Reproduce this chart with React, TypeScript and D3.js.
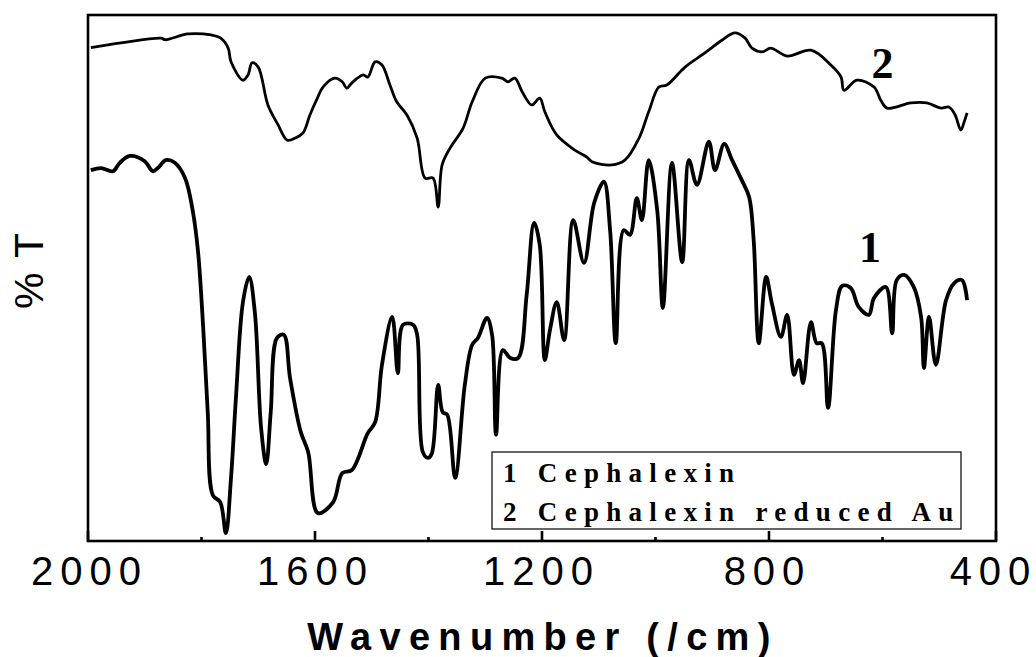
import React from "react";
import * as d3 from "d3";

// FTIR spectra: wavenumber (cm^-1) and relative transmittance (%T, arbitrary offset)
const cephalexinWavenumber = [
  1995, 1977, 1956, 1944, 1926, 1900, 1886, 1877, 1863, 1847, 1829, 1815, 1806, 1797, 1789, 1780,
  1767, 1757, 1748, 1739, 1727, 1716, 1706, 1695, 1686, 1678, 1667, 1655, 1644, 1625, 1612, 1595,
  1568, 1552, 1535, 1507, 1494, 1482, 1464, 1454, 1445, 1427, 1420, 1410, 1401, 1394, 1383, 1375,
  1367, 1353, 1336, 1323, 1313, 1297, 1288, 1281, 1269, 1256, 1242, 1227, 1214, 1204, 1195, 1186,
  1174, 1161, 1145, 1126, 1108, 1091, 1080, 1070, 1056, 1045, 1033, 1024, 1012, 997, 987, 971,
  953, 941, 927, 906, 895, 879, 865, 848, 835, 827, 818, 805, 795, 779, 768, 756,
  747, 740, 726, 716, 707, 696, 682, 671, 656, 642, 624, 615, 594, 583, 575, 562,
  545, 532, 527, 518, 506, 488, 474, 460, 451,
];
const cephalexinT = [
  70.5, 70.9, 70.3, 71.9, 73.2, 72.2, 70.3, 70.9, 72.4, 71.9, 69.0, 62.5, 54.9, 40.5, 24.5, 8.7,
  7.4, 1.5, 12.0, 27.8, 45.4, 50.2, 43.5, 21.5, 14.6, 24.5, 38.6, 39.2, 31.0, 20.7, 16.9, 5.3,
  7.4, 12.9, 13.5, 20.5, 22.6, 33.5, 42.6, 31.9, 41.1, 41.1, 39.2, 16.9, 15.8, 16.7, 29.7, 24.5,
  24.0, 12.0, 29.7, 37.3, 38.6, 42.4, 39.2, 20.2, 36.3, 34.8, 34.8, 46.8, 60.5, 56.3, 34.4, 40.1,
  45.4, 38.2, 61.0, 52.9, 64.3, 68.3, 59.1, 37.6, 59.1, 58.2, 65.2, 61.0, 72.4, 62.9, 44.3, 71.9,
  53.0, 72.4, 67.7, 75.9, 70.5, 75.5, 72.4, 68.6, 65.4, 57.2, 37.6, 50.2, 45.2, 38.8, 43.0, 31.6,
  34.4, 30.0, 41.6, 37.6, 37.6, 25.3, 43.9, 48.5, 48.1, 44.5, 43.0, 46.2, 48.3, 39.5, 49.6, 50.6,
  48.3, 42.6, 32.9, 42.6, 33.5, 45.8, 49.0, 49.6, 45.8,
];

const reducedAuWavenumber = [
  1995, 1942, 1871, 1864, 1824, 1783, 1766, 1753, 1748, 1727, 1718, 1711, 1700, 1683, 1665, 1649,
  1635, 1621, 1609, 1595, 1586, 1565, 1552, 1544, 1535, 1515, 1507, 1494, 1482, 1468, 1456, 1438,
  1420, 1406, 1392, 1383, 1376, 1362, 1339, 1323, 1300, 1271, 1260, 1248, 1234, 1218, 1204, 1195,
  1174, 1142, 1121, 1112, 1077, 1054, 1029, 1012, 994, 980, 948, 913, 883, 860, 842, 830,
  812, 797, 768, 726, 691, 673, 668, 645, 615, 603, 592, 550, 522, 497, 483, 472,
  462, 456, 451,
];
const reducedAuT = [
  93.8, 94.7, 95.6, 95.3, 96.4, 96.2, 95.6, 93.7, 91.1, 87.6, 88.6, 90.9, 90.1, 82.9, 79.1, 76.2,
  76.6, 77.6, 81.0, 84.4, 86.3, 88.0, 87.3, 86.1, 87.1, 88.6, 88.2, 91.1, 90.5, 86.7, 83.5, 81.0,
  76.6, 69.0, 69.0, 63.5, 71.5, 74.7, 78.5, 83.5, 88.0, 88.0, 87.3, 88.0, 85.2, 82.9, 84.2, 81.6,
  77.2, 74.3, 73.0, 72.1, 71.5, 72.4, 76.6, 81.6, 86.3, 86.7, 90.1, 92.8, 95.2, 96.6, 95.6, 93.7,
  93.0, 93.7, 92.2, 93.3, 90.5, 88.2, 85.7, 87.6, 86.3, 83.8, 82.3, 83.3, 83.3, 82.3, 82.5, 81.0,
  78.1, 79.7, 81.4, 80.4,
];

const majorTicks = [2000, 1600, 1200, 800, 400];
const minorTicks = [1800, 1400, 1000, 600];
const legendItems = ["1 Cephalexin", "2 Cephalexin reduced Au"];
const curveLabels = [
  { text: "1", wavenumber: 622, t: 53.0 },
  { text: "2", wavenumber: 600, t: 88.0 },
];

const W = 1036;
const H = 657;
const plot = { left: 88, right: 996, top: 15, bottom: 541 };

export default function App() {
  const x = d3.scaleLinear().domain([2000, 400]).range([plot.left, plot.right]);
  const y = d3.scaleLinear().domain([0, 100]).range([plot.bottom, plot.top]);

  const line = d3
    .line<[number, number]>()
    .x((d) => x(d[0]))
    .y((d) => y(d[1]))
    .curve(d3.curveCatmullRom.alpha(0.5));

  const s1 = cephalexinWavenumber.map((w, i) => [w, cephalexinT[i]] as [number, number]);
  const s2 = reducedAuWavenumber.map((w, i) => [w, reducedAuT[i]] as [number, number]);

  const tickFont = "'Liberation Sans', Arial, sans-serif";
  const serif = "'Liberation Serif', 'Times New Roman', serif";
  const tickSpacing = 7;

  return (
    <svg
      width={W}
      height={H}
      viewBox={`0 0 ${W} ${H}`}
      style={{ position: "absolute", left: 0, top: 0, background: "#fff" }}
    >
      <rect x={0} y={0} width={W} height={H} fill="#fff" />

      {/* spectra */}
      <path d={line(s2) ?? ""} fill="none" stroke="#000" strokeWidth={2.8} strokeLinejoin="round" />
      <path d={line(s1) ?? ""} fill="none" stroke="#000" strokeWidth={3.8} strokeLinejoin="round" />

      {/* frame */}
      <rect
        x={plot.left}
        y={plot.top}
        width={plot.right - plot.left}
        height={plot.bottom - plot.top}
        fill="none"
        stroke="#000"
        strokeWidth={2.6}
      />

      {/* ticks on the bottom axis, pointing inward */}
      {majorTicks.map((t) => (
        <line key={`M${t}`} x1={x(t)} x2={x(t)} y1={plot.bottom} y2={plot.bottom - 10} stroke="#000" strokeWidth={2.6} />
      ))}
      {minorTicks.map((t) => (
        <line key={`m${t}`} x1={x(t)} x2={x(t)} y1={plot.bottom} y2={plot.bottom - 4} stroke="#000" strokeWidth={2.6} />
      ))}

      {/* tick labels (text-anchor middle counts the trailing letter spacing) */}
      {majorTicks.map((t) => (
        <text
          key={`L${t}`}
          x={x(t) + tickSpacing / 2 - 2 - (2000 - t) / 400}
          y={585}
          textAnchor="middle"
          fontFamily={tickFont}
          fontSize={40}
          letterSpacing={tickSpacing}
          fill="#000"
        >
          {t}
        </text>
      ))}

      {/* axis titles */}
      <text
        x={543}
        y={650}
        textAnchor="middle"
        fontFamily={tickFont}
        fontWeight="bold"
        fontSize={38}
        letterSpacing={8.3}
        fill="#000"
      >
        Wavenumber (/cm)
      </text>
      <text
        transform="translate(43,270) rotate(-90)"
        textAnchor="middle"
        fontFamily={tickFont}
        fontSize={41}
        letterSpacing={2}
        fill="#000"
      >
        % T
      </text>

      {/* curve labels */}
      {curveLabels.map((c) => (
        <text
          key={c.text}
          x={x(c.wavenumber)}
          y={y(c.t)}
          textAnchor="middle"
          fontFamily={serif}
          fontWeight="bold"
          fontSize={44}
          fill="#000"
        >
          {c.text}
        </text>
      ))}

      {/* legend */}
      <rect x={492} y={452} width={469} height={77} fill="#fff" stroke="#000" strokeWidth={1.2} />
      {legendItems.map((s, i) => (
        <text
          key={s}
          x={503}
          y={482 + i * 39}
          fontFamily={serif}
          fontWeight="bold"
          fontSize={27}
          letterSpacing={7.3}
          fill="#000"
        >
          {s}
        </text>
      ))}
    </svg>
  );
}
